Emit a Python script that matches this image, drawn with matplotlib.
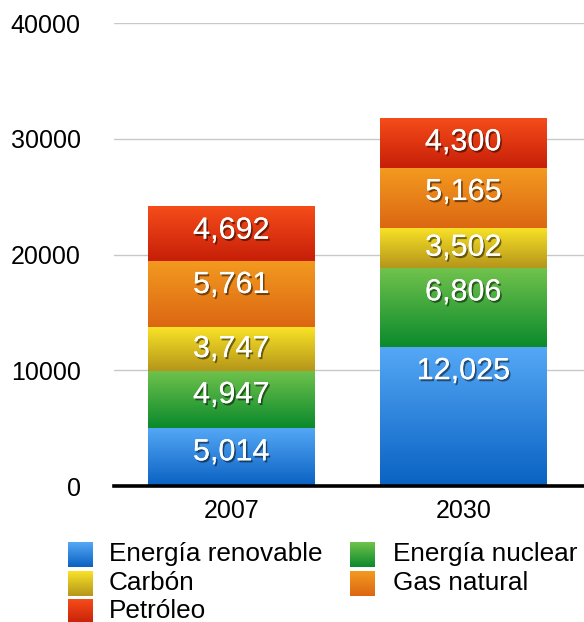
import numpy as np
import matplotlib
matplotlib.use("Agg")
import matplotlib.pyplot as plt
import matplotlib.patheffects as pe
from matplotlib.colors import LinearSegmentedColormap

plt.rcParams['font.family'] = ['Liberation Sans', 'DejaVu Sans']

years = ['2007', '2030']
renovable = [5014, 12025]
nuclear = [4947, 6806]
carbon = [3747, 3502]
gas = [5761, 5165]
petroleo = [4692, 4300]

series = [
    ('Energía renovable', renovable, '#55a8f6', '#0a62c2'),
    ('Energía nuclear', nuclear, '#70c24c', '#0b8a2c'),
    ('Carbón', carbon, '#f9e227', '#b5961a'),
    ('Gas natural', gas, '#f39a20', '#dc6712'),
    ('Petróleo', petroleo, '#f54c1a', '#c71f08'),
]

grad = np.linspace(0, 1, 64).reshape(-1, 1)


def gradient_box(ax, x0, x1, y0, y1, top, bottom, zorder=2):
    cmap = LinearSegmentedColormap.from_list('g', [top, bottom])
    ax.imshow(grad, cmap=cmap, extent=[x0, x1, y0, y1], origin='upper',
              aspect='auto', interpolation='bilinear', zorder=zorder)


fig = plt.figure(figsize=(5.84, 6.22), dpi=100)
ax = fig.add_axes([0.1952, 0.2186, 0.8048, 0.7444])

x = np.arange(len(years))
width = 0.7155
bottoms = np.zeros(len(years))
shadow = [pe.withSimplePatchShadow(offset=(1.2, -1.5), shadow_rgbFace='black', alpha=0.5), pe.Normal()]
for name, vals, top, bot in series:
    for i, v in enumerate(vals):
        gradient_box(ax, x[i] - width / 2, x[i] + width / 2, bottoms[i], bottoms[i] + v, top, bot)
        # labels sit near the top of tall segments
        ly = max(bottoms[i] + v / 2, bottoms[i] + v - 2100)
        ax.text(x[i], ly, f"{v:,}", ha='center', va='center',
                color='white', fontsize=22, zorder=4, path_effects=shadow)
    bottoms += np.array(vals)

ax.set_xlim(-0.505, 1.52)
ax.set_ylim(0, 40000)
ax.set_yticks([0, 10000, 20000, 30000, 40000])
ax.set_xticks(x)
ax.set_xticklabels(years)
ax.tick_params(axis='both', length=0, labelsize=18)
ax.tick_params(axis='y', pad=24)
ax.tick_params(axis='x', pad=9)
for s in ax.spines.values():
    s.set_visible(False)
ax.grid(axis='y', color='#c8c8c8', linewidth=1, zorder=0)
ax.set_axisbelow(True)
ax.axhline(0, color='black', linewidth=2.6, zorder=5, clip_on=False)

# legend drawn in pixel coordinates
lg = fig.add_axes([0, 0, 1, 1], zorder=-1)
lg.axis('off')
slots = [(68, 542, 109), (350, 542, 393), (68, 571, 109), (350, 571, 393), (68, 599, 109)]
for (name, vals, top, bot), (lx, ly, tx) in zip(series, slots):
    gradient_box(lg, lx, lx + 25, ly + 25, ly, top, bot)
    lg.text(tx, ly + 12, name, fontsize=18.8, va='center', ha='left')
lg.set_xlim(0, 584)
lg.set_ylim(622, 0)

fig.savefig('out.png', dpi=100)
